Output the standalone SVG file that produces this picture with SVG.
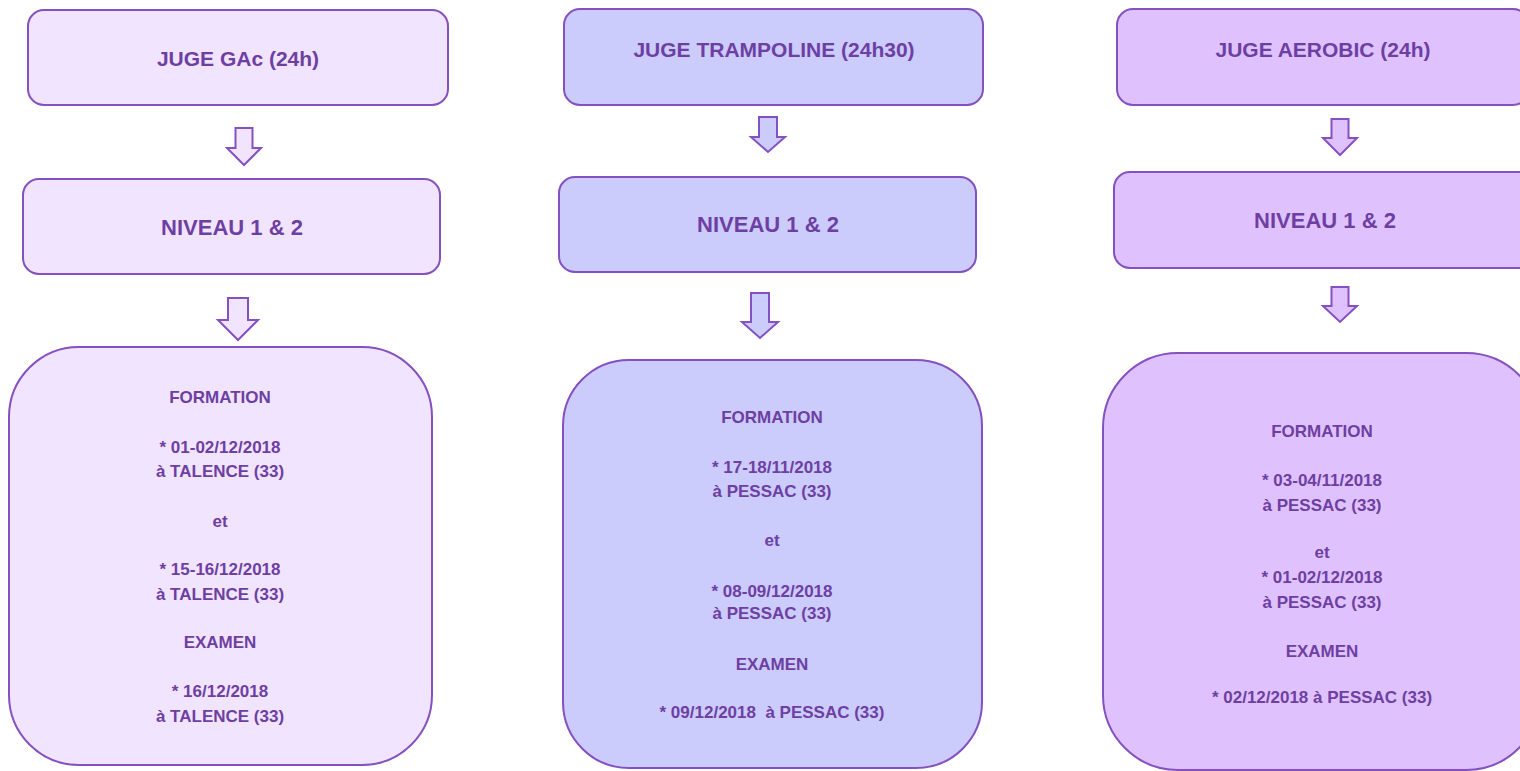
<svg xmlns="http://www.w3.org/2000/svg" width="1520" height="771" viewBox="0 0 1520 771">
<style>
.box{stroke:#8550BF;stroke-width:2}
.c1{fill:#F1E4FE}
.c2{fill:#CBCBFC}
.c3{fill:#DFC2FD}
.arr{stroke:#8550BF;stroke-width:2;stroke-linejoin:miter}
.t{font-family:"Liberation Sans",Arial,sans-serif;font-weight:bold;fill:#6E3FA3;text-anchor:middle}
.h{font-size:21px}
.n{font-size:22px}
.b{font-size:17px}
</style>
<rect width="1520" height="771" fill="#FFFFFF"/>
<g id="connectors">
<path class="arr c1" d="M235.5,128 H252.5 V148 H261 L244,165 L227,148 H235.5 Z"/>
<path class="arr c1" d="M228,298 H248 V320 H258 L238,340 L218,320 H228 Z"/>
<path class="arr c2" d="M759,117 H777 V137 H785 L768,152 L751,137 H759 Z"/>
<path class="arr c2" d="M751,293 H769 V322 H778 L760,338 L742,322 H751 Z"/>
<path class="arr c3" d="M1331.5,119 H1348.5 V138 H1357 L1340,155 L1323,138 H1331.5 Z"/>
<path class="arr c3" d="M1331.5,287 H1348.5 V306 H1357 L1340,322 L1323,306 H1331.5 Z"/>
</g>
<g id="gac-title">
<rect class="box c1" x="28" y="10" width="420" height="95" rx="16"/>
<text class="t h" x="238" y="66">JUGE GAc (24h)</text>
</g>
<g id="gac-niveau">
<rect class="box c1" x="23" y="179" width="417" height="95" rx="16"/>
<text class="t n" x="232" y="235">NIVEAU 1 &amp; 2</text>
</g>
<g id="gac-details">
<rect class="box c1" x="9" y="347" width="423" height="418" rx="70"/>
<text class="t b" x="220" y="403">FORMATION</text>
<text class="t b" x="220" y="453">* 01-02/12/2018</text>
<text class="t b" x="220" y="477">à TALENCE (33)</text>
<text class="t b" x="220" y="527">et</text>
<text class="t b" x="220" y="575">* 15-16/12/2018</text>
<text class="t b" x="220" y="600">à TALENCE (33)</text>
<text class="t b" x="220" y="648">EXAMEN</text>
<text class="t b" x="220" y="697">* 16/12/2018</text>
<text class="t b" x="220" y="722">à TALENCE (33)</text>
</g>
<g id="trampoline-title">
<rect class="box c2" x="564" y="9" width="419" height="96" rx="16"/>
<text class="t h" x="774" y="57">JUGE TRAMPOLINE (24h30)</text>
</g>
<g id="trampoline-niveau">
<rect class="box c2" x="559" y="177" width="417" height="95" rx="16"/>
<text class="t n" x="768" y="232">NIVEAU 1 &amp; 2</text>
</g>
<g id="trampoline-details">
<rect class="box c2" x="563" y="360" width="419" height="408" rx="66"/>
<text class="t b" x="772" y="423">FORMATION</text>
<text class="t b" x="772" y="473">* 17-18/11/2018</text>
<text class="t b" x="772" y="497">à PESSAC (33)</text>
<text class="t b" x="772" y="546">et</text>
<text class="t b" x="772" y="597">* 08-09/12/2018</text>
<text class="t b" x="772" y="619">à PESSAC (33)</text>
<text class="t b" x="772" y="670">EXAMEN</text>
<text class="t b" x="772" y="718" xml:space="preserve">* 09/12/2018  à PESSAC (33)</text>
</g>
<g id="aerobic-title">
<rect class="box c3" x="1117" y="9" width="412" height="96" rx="16"/>
<text class="t h" x="1323" y="57">JUGE AEROBIC (24h)</text>
</g>
<g id="aerobic-niveau">
<rect class="box c3" x="1114" y="172" width="422" height="96" rx="16"/>
<text class="t n" x="1325" y="228">NIVEAU 1 &amp; 2</text>
</g>
<g id="aerobic-details">
<rect class="box c3" x="1103" y="353" width="438" height="417" rx="75"/>
<text class="t b" x="1322" y="437">FORMATION</text>
<text class="t b" x="1322" y="486">* 03-04/11/2018</text>
<text class="t b" x="1322" y="511">à PESSAC (33)</text>
<text class="t b" x="1322" y="558">et</text>
<text class="t b" x="1322" y="583">* 01-02/12/2018</text>
<text class="t b" x="1322" y="608">à PESSAC (33)</text>
<text class="t b" x="1322" y="657">EXAMEN</text>
<text class="t b" x="1322" y="703">* 02/12/2018 à PESSAC (33)</text>
</g>
</svg>
